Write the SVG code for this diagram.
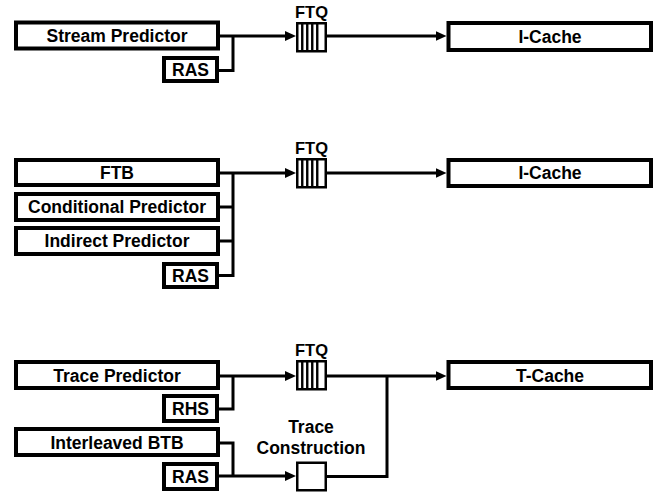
<svg xmlns="http://www.w3.org/2000/svg" width="655" height="493" viewBox="0 0 655 493">
<style>
.box{fill:#fff;stroke:#000;stroke-width:4}
.q{fill:#fff;stroke:#000;stroke-width:2.5}
.ql{stroke:#000;stroke-width:2.4}
.lbl{font-family:"Liberation Sans",Arial,Helvetica,sans-serif;font-weight:bold;font-size:17.5px;text-anchor:middle;fill:#000}
.ftq{font-family:"Liberation Sans",Arial,Helvetica,sans-serif;font-weight:bold;font-size:16.5px;text-anchor:middle;fill:#000}
.c{fill:none;stroke:#000;stroke-width:3;stroke-linejoin:miter}
</style>
<defs>
<marker id="arr" markerUnits="userSpaceOnUse" markerWidth="11" markerHeight="10" viewBox="0 0 11 10" refX="5" refY="5" orient="auto">
<path d="M0,0 L11,5 L0,10 z" fill="#000"/>
</marker>
<g id="ftqshape">
<rect class="q" x="0" y="0" width="28.5" height="28"/>
<line class="ql" x1="5" y1="0" x2="5" y2="28"/>
<line class="ql" x1="10" y1="0" x2="10" y2="28"/>
<line class="ql" x1="15" y1="0" x2="15" y2="28"/>
<line class="ql" x1="20" y1="0" x2="20" y2="28"/>
</g>
</defs>
<rect width="655" height="493" fill="#fff"/>

<g id="connectors">
<path class="c" d="M220,36 H290" marker-end="url(#arr)"/>
<path class="c" d="M219,70.5 H233 V36"/>
<path class="c" d="M327,36 H440.5" marker-end="url(#arr)"/>

<path class="c" d="M220,173 H290" marker-end="url(#arr)"/>
<path class="c" d="M219,207 H233"/>
<path class="c" d="M219,241 H233"/>
<path class="c" d="M219,275.5 H233 V173"/>
<path class="c" d="M327,173 H440.5" marker-end="url(#arr)"/>

<path class="c" d="M220,376 H290" marker-end="url(#arr)"/>
<path class="c" d="M219,409 H233 V376"/>
<path class="c" d="M220,443 H233 V476"/>
<path class="c" d="M219,476 H290" marker-end="url(#arr)"/>
<path class="c" d="M327,476.5 H387 V376"/>
<path class="c" d="M327,376 H440.5" marker-end="url(#arr)"/>
</g>

<g id="stream-predictor"><rect class="box" x="16" y="22.5" width="202" height="26"/><text class="lbl" x="117" y="42">Stream Predictor</text></g>
<g id="ras-1"><rect class="box" x="164" y="58" width="53" height="23"/><text class="lbl" x="190.5" y="76">RAS</text></g>
<g id="ftq-1"><use href="#ftqshape" x="297.25" y="23.25"/><text class="ftq" x="311.5" y="18">FTQ</text></g>
<g id="icache-1"><rect class="box" x="448.5" y="23" width="202.5" height="27"/><text class="lbl" x="550" y="42.5">I-Cache</text></g>

<g id="ftb"><rect class="box" x="16" y="160" width="202" height="25"/><text class="lbl" x="117" y="179">FTB</text></g>
<g id="conditional-predictor"><rect class="box" x="16" y="194" width="202" height="26"/><text class="lbl" x="117" y="213">Conditional Predictor</text></g>
<g id="indirect-predictor"><rect class="box" x="16" y="228" width="202" height="26"/><text class="lbl" x="117" y="247">Indirect Predictor</text></g>
<g id="ras-2"><rect class="box" x="164" y="264" width="53" height="23"/><text class="lbl" x="190.5" y="281.7">RAS</text></g>
<g id="ftq-2"><use href="#ftqshape" x="297.25" y="159.25"/><text class="ftq" x="311.5" y="154">FTQ</text></g>
<g id="icache-2"><rect class="box" x="448.5" y="160" width="202.5" height="26"/><text class="lbl" x="550" y="179">I-Cache</text></g>

<g id="trace-predictor"><rect class="box" x="16" y="362" width="202" height="26"/><text class="lbl" x="117" y="381.5">Trace Predictor</text></g>
<g id="rhs"><rect class="box" x="164" y="396" width="53" height="25"/><text class="lbl" x="190.5" y="415">RHS</text></g>
<g id="interleaved-btb"><rect class="box" x="16" y="429" width="202" height="26"/><text class="lbl" x="117" y="448.5">Interleaved BTB</text></g>
<g id="ras-3"><rect class="box" x="164" y="464" width="53" height="25"/><text class="lbl" x="190.5" y="483">RAS</text></g>
<g id="ftq-3"><use href="#ftqshape" x="297.25" y="361.25"/><text class="ftq" x="311.5" y="356">FTQ</text></g>
<g id="trace-construction"><rect class="q" x="297.25" y="462.75" width="28.5" height="27.5"/><text class="lbl" x="311" y="433">Trace</text><text class="lbl" x="311" y="454">Construction</text></g>
<g id="tcache"><rect class="box" x="448.5" y="362" width="202.5" height="26"/><text class="lbl" x="550" y="381.5">T-Cache</text></g>
</svg>
